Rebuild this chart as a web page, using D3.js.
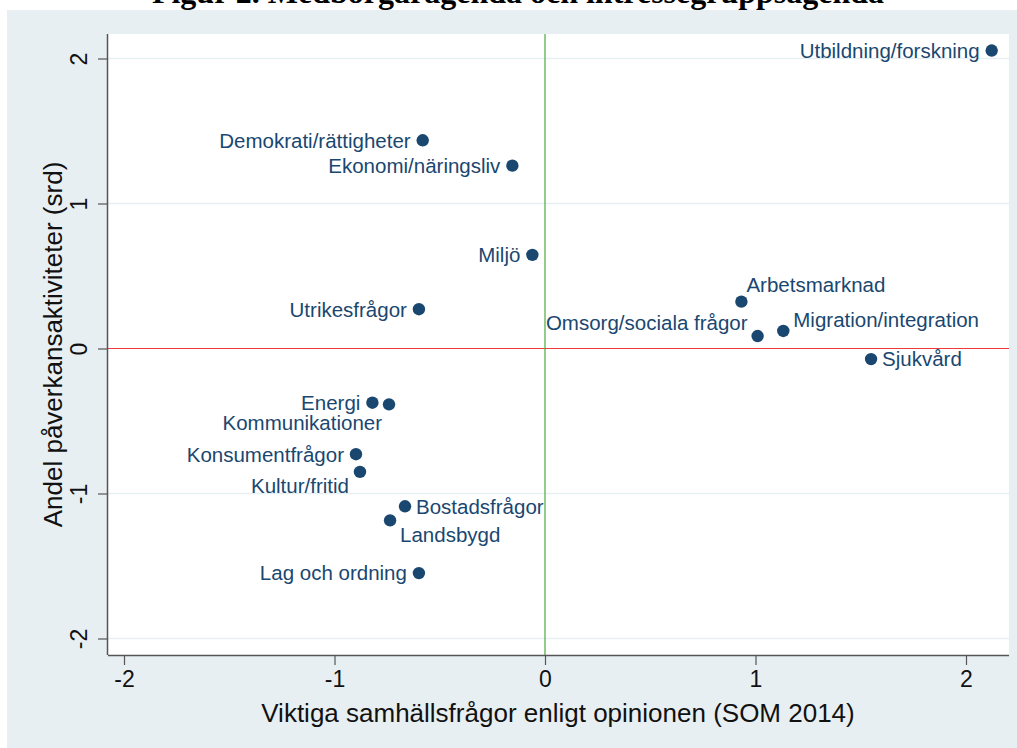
<!DOCTYPE html>
<html><head><meta charset="utf-8">
<script src="https://cdn.jsdelivr.net/npm/d3@7"></script>
<style>
html,body{margin:0;padding:0;background:#fff;}
svg{display:block;}
</style></head>
<body>
<svg id="chart" width="1017" height="748"></svg>
<script>
// ---- data ----
const issues = ["Utbildning/forskning","Demokrati/rättigheter","Ekonomi/näringsliv","Miljö","Utrikesfrågor","Arbetsmarknad","Omsorg/sociala frågor","Migration/integration","Sjukvård","Energi","Kommunikationer","Konsumentfrågor","Kultur/fritid","Bostadsfrågor","Landsbygd","Lag och ordning"];
const opinion = [2.122,-0.581,-0.155,-0.060,-0.599,0.933,1.010,1.132,1.549,-0.820,-0.741,-0.898,-0.879,-0.665,-0.736,-0.599];
const lobbying = [2.055,1.436,1.261,0.646,0.271,0.323,0.086,0.121,-0.073,-0.374,-0.385,-0.729,-0.851,-1.088,-1.185,-1.549];
const labelClock = [9,9,9,9,9,1,10,2,3,9,7,9,8,3,5,9];
const xTicks = [-2,-1,0,1,2];
const yTicks = [-2,-1,0,1,2];
const titleText = "Figur 2. Medborgaragenda och intressegruppsagenda";
const xTitle = "Viktiga samhällsfrågor enligt opinionen (SOM 2014)";
const yTitle = "Andel påverkansaktiviteter (srd)";

// ---- layout ----
const svg = d3.select("#chart");
const sans = "'Liberation Sans', Arial, Helvetica, sans-serif";
const navy = "#1a476f";
const plot = {left:108, right:1009, top:34, bottom:655};

const x = d3.scaleLinear().domain([-2,2]).range([124,966]);
const y = d3.scaleLinear().domain([-2,2]).range([638.5,58.5]);

// outer background
svg.append("rect").attr("x",7).attr("y",10).attr("width",1010).attr("height",738).attr("fill","#e8eff2");
// plot region
svg.append("rect").attr("x",plot.left).attr("y",plot.top).attr("width",plot.right-plot.left).attr("height",plot.bottom-plot.top).attr("fill","#ffffff");

// title (cut off at top, as in the source)
svg.append("text").attr("x",518).attr("y",3).attr("text-anchor","middle")
  .attr("font-family","'Liberation Serif','Times New Roman',serif").attr("font-weight","bold")
  .attr("font-size",32).attr("fill","#000").text(titleText);

// gridlines
svg.append("g").selectAll("line").data(yTicks.filter(d=>d!==0)).join("line")
  .attr("x1",plot.left).attr("x2",plot.right)
  .attr("y1",d=>y(d)).attr("y2",d=>y(d))
  .attr("stroke","#e6eff1").attr("stroke-width",1.5);

// reference lines
svg.append("line").attr("x1",plot.left).attr("x2",plot.right).attr("y1",y(0)).attr("y2",y(0))
  .attr("stroke","#f03a3a").attr("stroke-width",1.2);
svg.append("line").attr("x1",x(0)).attr("x2",x(0)).attr("y1",plot.top).attr("y2",plot.bottom)
  .attr("stroke","#4caa3c").attr("stroke-width",1.2);

// axes
const xAxis = d3.axisBottom(x).tickValues(xTicks).tickSize(10).tickPadding(6).tickFormat(d3.format("d"));
const gx = svg.append("g").attr("transform",`translate(0,${plot.bottom})`).call(xAxis);
gx.select(".domain").attr("d",`M${plot.left},0.5H${plot.right}`).attr("stroke","#555").attr("stroke-width",1.5);
gx.selectAll(".tick line").attr("stroke","#555").attr("stroke-width",1.2);
gx.selectAll(".tick text").attr("font-family",sans).attr("font-size",23).attr("fill","#111")
  .text(d=>d<0?"-"+Math.abs(d):d);

const yAxis = d3.axisLeft(y).tickValues(yTicks).tickSize(10).tickPadding(0).tickFormat(d3.format("d"));
const gy = svg.append("g").attr("transform",`translate(${plot.left},0)`).call(yAxis);
gy.select(".domain").attr("d",`M-0.5,${plot.top}V${plot.bottom}`).attr("stroke","#555").attr("stroke-width",1.5);
gy.selectAll(".tick line").attr("stroke","#555").attr("stroke-width",1.2);
gy.selectAll(".tick text").attr("font-family",sans).attr("font-size",23).attr("fill","#111")
  .attr("x",null).attr("dy",null)
  .attr("text-anchor","middle")
  .attr("transform","translate(-21,0) rotate(-90)")
  .text(d=>d<0?"-"+Math.abs(d):d);

// axis titles
svg.append("text").attr("x",558).attr("y",722).attr("text-anchor","middle")
  .attr("font-family",sans).attr("font-size",26).attr("fill","#111").text(xTitle);
svg.append("text").attr("transform",`translate(62,${(plot.top+plot.bottom)/2}) rotate(-90)`)
  .attr("text-anchor","middle").attr("font-family",sans).attr("font-size",26).attr("fill","#111").text(yTitle);

// points
const pts = issues.map((n,i)=>({name:n, ox:opinion[i], ly:lobbying[i], pos:labelClock[i]}));
svg.append("g").selectAll("circle").data(pts).join("circle")
  .attr("cx",d=>x(d.ox)).attr("cy",d=>y(d.ly)).attr("r",6.2).attr("fill",navy);

// marker labels placed by clock position
const clockOff = {
  9:{a:"end",dx:-12,dy:0},
  3:{a:"start",dx:11,dy:0},
  1:{a:"start",dx:5,dy:-17},
  2:{a:"start",dx:10,dy:-11},
  10:{a:"end",dx:-10,dy:-13},
  7:{a:"end",dx:-7,dy:18},
  8:{a:"end",dx:-11,dy:14},
  5:{a:"start",dx:10,dy:14}
};
svg.append("g").selectAll("text").data(pts).join("text")
  .attr("x",d=>x(d.ox)+clockOff[d.pos].dx)
  .attr("y",d=>y(d.ly)+clockOff[d.pos].dy)
  .attr("dy","0.36em")
  .attr("text-anchor",d=>clockOff[d.pos].a)
  .attr("font-family",sans).attr("font-size",20.5).attr("fill",navy)
  .text(d=>d.name);
</script>
</body></html>
